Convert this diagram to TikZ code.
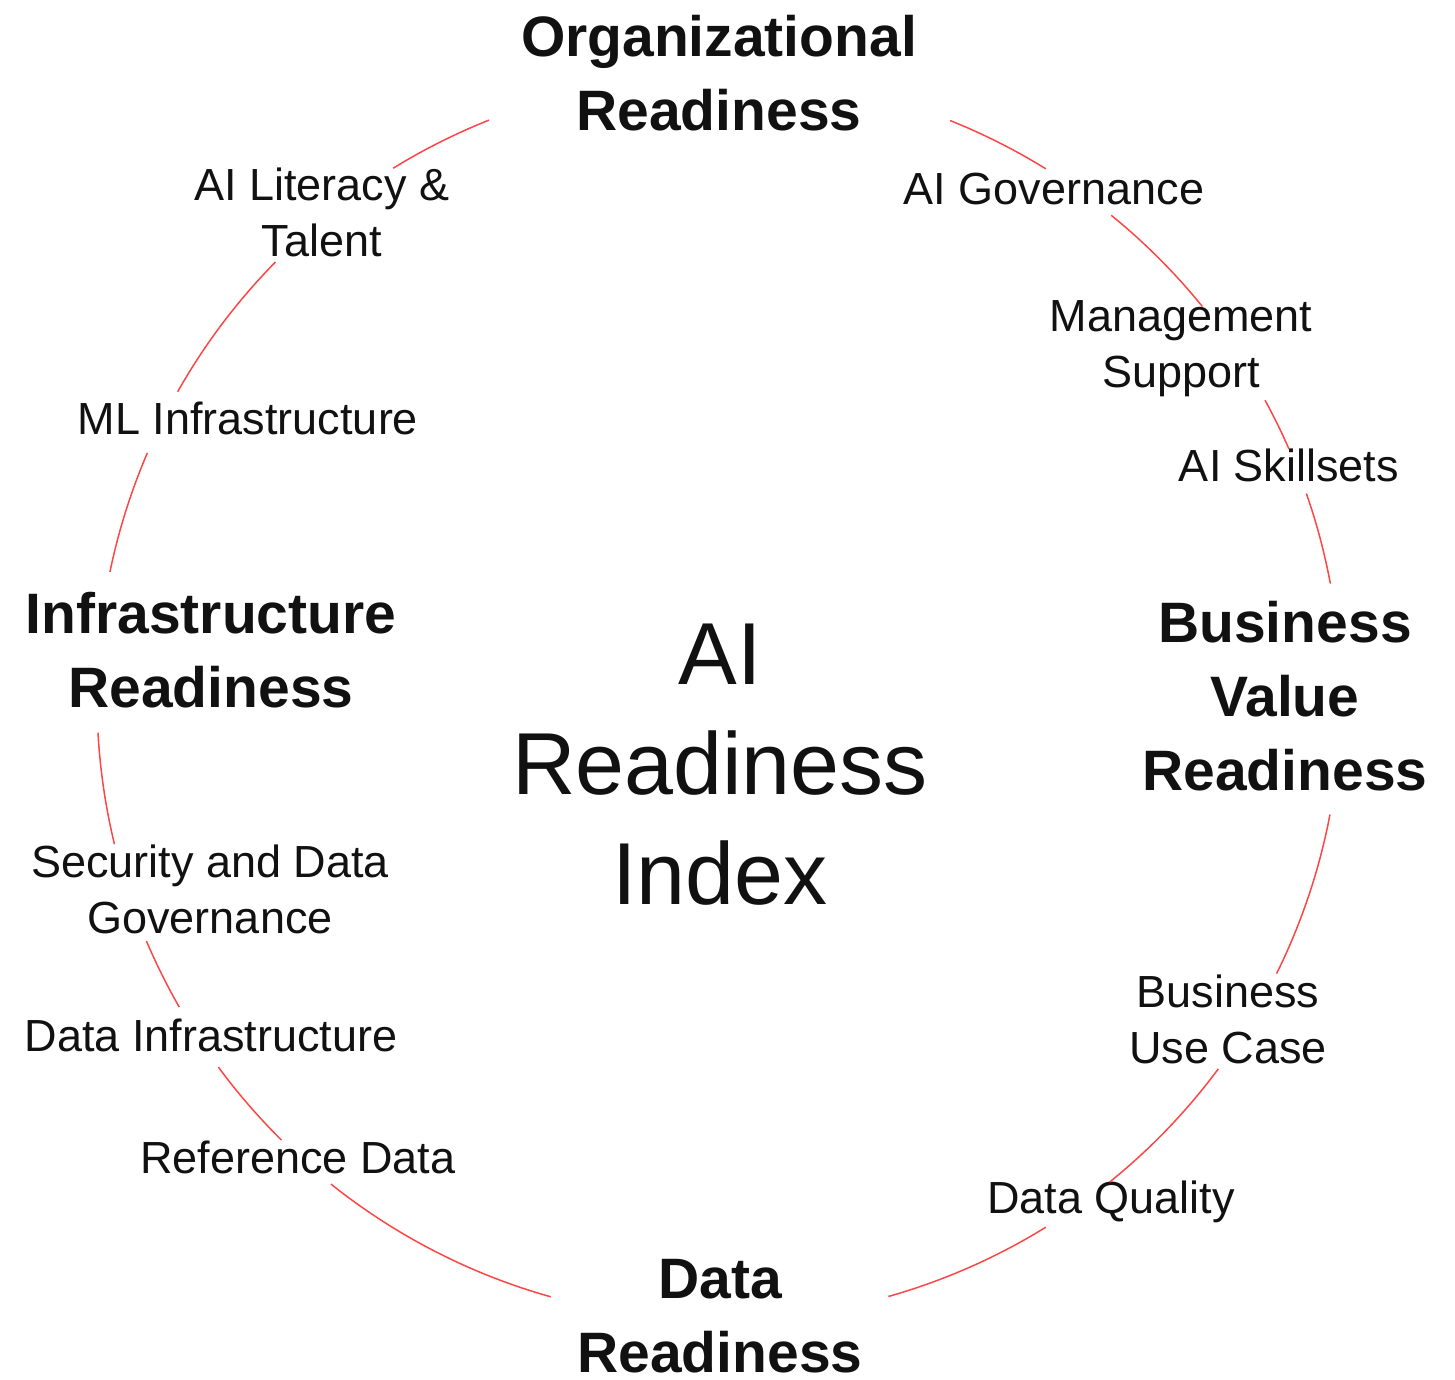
\documentclass[tikz,border=0pt]{standalone}
\usepackage{fontspec}
\setmainfont{Liberation Sans}
\usetikzlibrary{calc}
\definecolor{ringred}{RGB}{255,70,70}
\definecolor{ink}{RGB}{17,17,17}
\begin{document}
\begin{tikzpicture}[x=1pt,y=1pt,
  pillar/.style={align=center,text=ink,inner sep=0pt,
    font=\fontsize{57}{74}\selectfont\bfseries},
  factor/.style={align=center,text=ink,inner sep=0pt,
    font=\fontsize{45}{56}\selectfont},
  hub/.style={align=center,text=ink,inner sep=0pt,
    font=\fontsize{88}{110}\selectfont},
  ring/.style={draw=ringred,line width=1.5pt}]
\useasboundingbox (0,0) rectangle (1455,-1379);
\coordinate (O) at (719,-698);

% centre title
\node[hub] (index) at (720,-765) {AI\\Readiness\\Index};

% the four pillars
\node[pillar] (org)   at (719,-73)   {Organizational\\Readiness};
\node[pillar] (infra) at (211,-650)  {Infrastructure\\Readiness};
\node[pillar] (bvr)   at (1285,-696) {Business\\Value\\Readiness};
\node[pillar] (data)  at (720,-1316) {Data\\Readiness};

% factors around the ring
\node[factor] (lit)   at (322,-212)  {AI Literacy \&\\Talent};
\node[factor] (ml)    at (248,-418)  {ML Infrastructure};
\node[factor] (sec)   at (210,-889)  {Security and Data\\Governance};
\node[factor] (dinf)  at (211,-1035) {Data Infrastructure};
\node[factor] (ref)   at (298,-1157) {Reference Data};
\node[factor] (dq)    at (1111,-1202){Data Quality};
\node[factor] (buc)   at (1228,-1019){Business\\Use Case};
\node[factor] (skill) at (1289,-465) {AI Skillsets};
\node[factor] (mgmt)  at (1181,-349) {Management\\Support};
\node[factor] (gov)   at (1054,-189) {AI Governance};

% ring segments joining neighbouring labels
\foreach \s/\e in {
  111.7/121.6,   % org -> lit
  135.5/150.5,   % lit -> ml
  156.8/168.3,   % ml -> infra
  183.2/193.6,   % infra -> sec
  203.0/209.8,   % sec -> dinf
  216.4/225.3,   % dinf -> ref
  231.4/254.3,   % ref -> data
  285.8/301.7,   % data -> dq
  308.9/323.4,   % dq -> buc
  333.7/349.2,   % buc -> bvr
  10.6/19.2,     % bvr -> skill
  23.6/28.6,     % skill -> mgmt
  39.0/50.9,     % mgmt -> gov
  58.3/68.2}     % gov -> org
  \draw[ring] ($(O)+(\s:622)$) arc[start angle=\s,end angle=\e,radius=622];
\end{tikzpicture}
\end{document}
